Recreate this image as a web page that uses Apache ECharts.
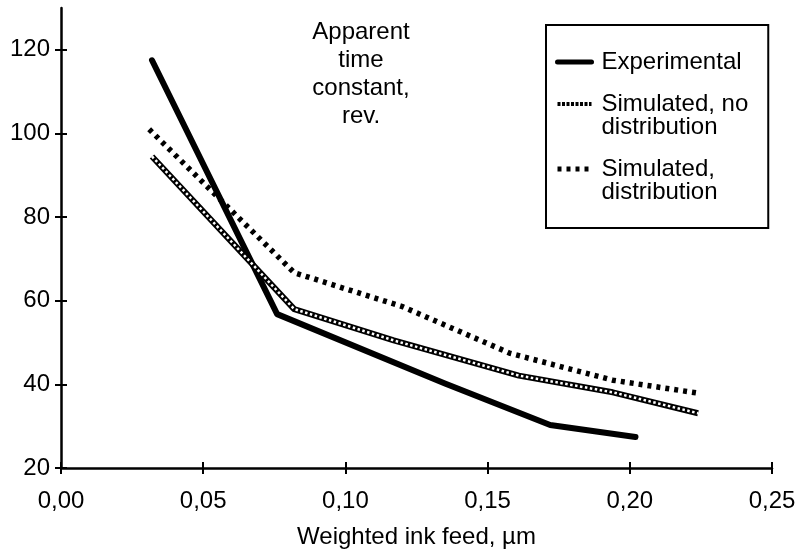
<!DOCTYPE html>
<html>
<head>
<meta charset="utf-8">
<script src="https://cdn.jsdelivr.net/npm/echarts@6/dist/echarts.min.js"></script>
<style>
  html, body { margin: 0; padding: 0; background: #fff; }
  #chart { width: 809px; height: 549px; }
</style>
</head>
<body>
<div id="chart"></div>
<script>
// 数据
var expX = [0.032, 0.076, 0.135, 0.172, 0.202];
var expY = [117.5, 56.8, 40.2, 30.3, 27.4];
var simNoX = [0.032, 0.082, 0.117, 0.161, 0.194, 0.224];
var simNoY = [94.5, 58, 50.5, 42.1, 38.1, 33.1];
var simDistX = [0.031, 0.082, 0.12, 0.158, 0.194, 0.224];
var simDistY = [101, 66.7, 58.6, 47.4, 41, 37.9];
var yTicks = [20, 40, 60, 80, 100, 120];
var seriesNames = ['Experimental', 'Simulated, no\ndistribution', 'Simulated,\ndistribution'];

function pairs(xs, ys) {
    var out = [];
    for (var i = 0; i < xs.length; i++) out.push([xs[i], ys[i]]);
    return out;
}

var font = 'Liberation Sans, Arial, Helvetica, sans-serif';
var myChart = echarts.init(document.getElementById('chart'));

var xBase = {
    type: 'value', min: 0, max: 0.25, interval: 0.05,
    position: 'bottom', splitLine: { show: false }
};
var yBase = {
    type: 'value', min: 20, max: 130,
    position: 'left', splitLine: { show: false }
};

var option = {
    animation: false,
    backgroundColor: '#fff',
    title: {
        text: 'Apparent\ntime\nconstant,\nrev.',
        left: 356, top: 13, textAlign: 'center',
        textStyle: { fontFamily: font, fontSize: 24, fontWeight: 'normal', color: '#000', lineHeight: 28 }
    },
    grid: { left: 61, right: 37, top: 8, bottom: 81, outerBoundsMode: 'none', containLabel: false },
    legend: {
        data: [
            { name: seriesNames[0] },
            { name: seriesNames[1], lineStyle: { type: [3, 1.5], width: 4 } },
            { name: seriesNames[2] }
        ],
        orient: 'vertical',
        left: 546, top: 25,
        padding: [25, 20, 24, 9],
        itemGap: -5,
        itemWidth: 34, itemHeight: 2,
        borderColor: '#000', borderWidth: 2, borderRadius: 0,
        itemStyle: { opacity: 0 },
        lineStyle: { width: 5 },
        //两行的名字前面加一个空行，让图标对齐第一行
        formatter: function(name) {
            return name.indexOf('\n') > -1 ? '\n' + name : name;
        },
        textStyle: { fontFamily: font, fontSize: 24, color: '#000', lineHeight: 23, padding: [0, 0, 0, 5] }
    },
    xAxis: [
        Object.assign({}, xBase, {
            name: 'Weighted ink feed, µm',
            nameLocation: 'middle', nameGap: 57,
            nameTextStyle: { fontFamily: font, fontSize: 24, color: '#000' },
            axisLine: { lineStyle: { color: '#000', width: 2.5 } },
            axisTick: { length: 6, lineStyle: { color: '#000', width: 2 } },
            axisLabel: {
                margin: 21, fontFamily: font, fontSize: 24, color: '#000',
                formatter: function(v) { return v.toFixed(2).replace('.', ','); }
            }
        }),
        Object.assign({}, xBase, {
            axisLine: { show: false },
            axisTick: { inside: true, length: 6, lineStyle: { color: '#000', width: 2 } },
            axisLabel: { show: false }
        })
    ],
    yAxis: [
        Object.assign({}, yBase, {
            axisLine: { lineStyle: { color: '#000', width: 2.5 } },
            axisTick: { length: 6, customValues: yTicks, lineStyle: { color: '#000', width: 2 } },
            axisLabel: { margin: 11, customValues: yTicks, fontFamily: font, fontSize: 24, color: '#000' }
        }),
        Object.assign({}, yBase, {
            axisLine: { show: false },
            axisTick: { inside: true, length: 6, customValues: yTicks, lineStyle: { color: '#000', width: 2 } },
            axisLabel: { show: false }
        })
    ],
    series: [
        {
            name: seriesNames[0], type: 'line', symbol: 'none',
            data: pairs(expX, expY),
            lineStyle: { color: '#000', width: 6, cap: 'round', join: 'round' },
            itemStyle: { color: '#000' }
        },
        {
            name: seriesNames[1], type: 'line', symbol: 'none',
            data: pairs(simNoX, simNoY),
            lineStyle: { color: '#000', width: 6, join: 'round' },
            itemStyle: { color: '#000' }
        },
        {
            // 空心圆链效果
            name: 'chain', type: 'line', symbol: 'none', silent: true,
            data: pairs(simNoX, simNoY),
            lineStyle: { color: '#fff', width: 2.5, type: [2.5, 2.5] },
            z: 3
        },
        {
            name: seriesNames[2], type: 'line', symbol: 'none',
            data: pairs(simDistX, simDistY),
            lineStyle: { color: '#000', width: 5.5, type: [4, 5], cap: 'butt' },
            itemStyle: { color: '#000' }
        }
    ]
};
myChart.setOption(option);
</script>
</body>
</html>
